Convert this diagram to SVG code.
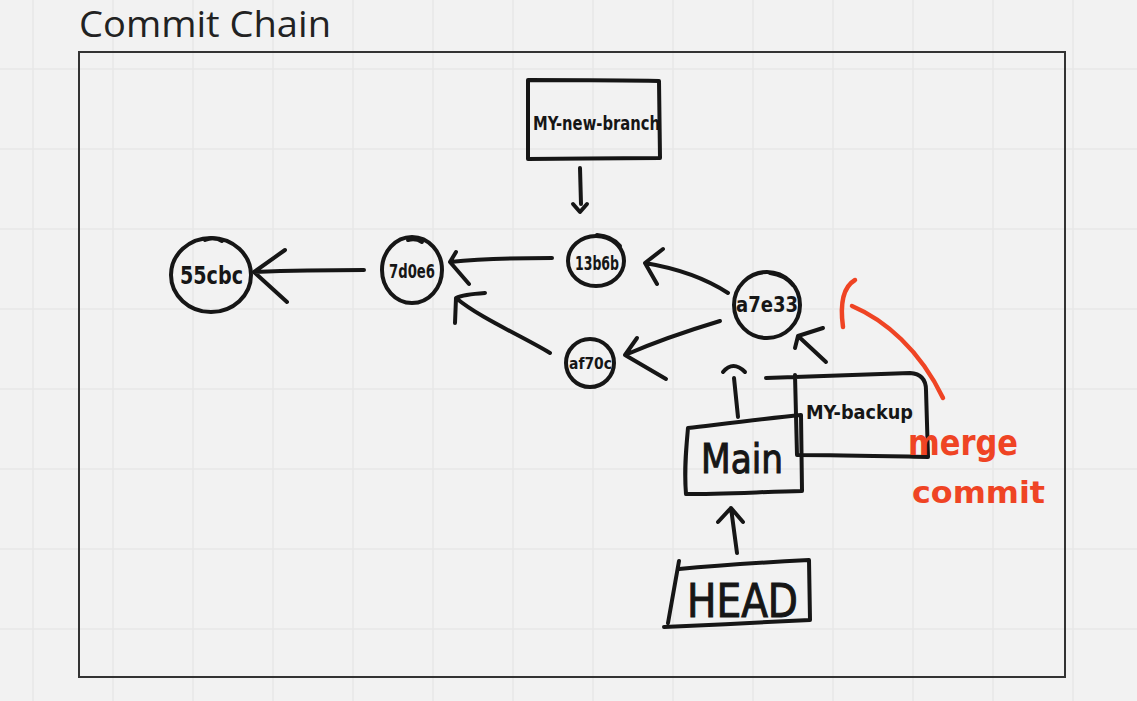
<svg xmlns="http://www.w3.org/2000/svg" width="1137" height="701" viewBox="0 0 1137 701">
<defs>
<style>
.grid{stroke:#e7e7e7;stroke-width:1.5}
.ink{fill:none;stroke:#161616;stroke-width:4;stroke-linecap:round;stroke-linejoin:round}
.red{fill:none;stroke:#ef4424;stroke-width:4.5;stroke-linecap:round;stroke-linejoin:round}
.hw{font-family:"DejaVu Sans Condensed","DejaVu Sans",sans-serif;font-weight:bold;fill:#161616}
.hwn{font-family:"DejaVu Sans Condensed","DejaVu Sans",sans-serif;font-weight:normal;fill:#161616;stroke:#161616;stroke-width:1}
.hwr{font-family:"DejaVu Sans Condensed","DejaVu Sans",sans-serif;font-weight:bold;fill:#ef4424}
</style>
</defs>
<rect width="1137" height="701" fill="#f2f2f2"/>
<g id="grid">
<path class="grid" d="M33 0V701M113 0V701M193 0V701M273 0V701M353 0V701M433 0V701M513 0V701M593 0V701M673 0V701M753 0V701M833 0V701M913 0V701M993 0V701M1073 0V701M0 69H1137M0 149H1137M0 229H1137M0 309H1137M0 389H1137M0 469H1137M0 549H1137M0 629H1137"/>
</g>
<g id="frame">
<text x="79" y="37" font-family="Open Sans, sans-serif" font-size="36" fill="#222" textLength="252" lengthAdjust="spacingAndGlyphs">Commit Chain</text>
<rect x="79" y="52" width="986" height="625" fill="none" stroke="#333" stroke-width="2"/>
</g>
<g id="connectors">
<path class="ink" d="M580 168L581 204M573 204L580 212L587 204"/>
<path class="ink" d="M364 270C320 270 280 271 254 272M285 250L254 272L287 302"/>
<path class="ink" d="M552 258C515 258 480 259 450 262M456 252L450 262L469 284"/>
<path class="ink" d="M550 353C520 335 480 318 456 298M485 293C470 294 462 295 456 298L455 323"/>
<path class="ink" d="M728 293C705 278 675 268 645 263M663 249L645 263L657 284"/>
<path class="ink" d="M720 321C690 330 655 342 625 355M637 338L625 355L666 379"/>
<path class="ink" d="M826 362L798 336M823 328L798 336L795 348"/>
<path class="ink" d="M738 417L734 378M723 372Q733 360 745 372"/>
<path class="ink" d="M737 553L731 508M718 522L731 508L743 522"/>
</g>
<g id="node-my-new-branch">
<path class="ink" d="M528 80C580 80 620 80 659 81L660 158C620 158 570 159 528 159Z"/>
<text class="hw" x="533" y="130" font-size="19" textLength="127" lengthAdjust="spacingAndGlyphs">MY-new-branch</text>
</g>
<g id="node-55cbc">
<ellipse class="ink" cx="211" cy="275" rx="40" ry="37"/>
<path class="ink" d="M205 240Q214 236 222 241"/>
<text class="hw" x="180" y="284" font-size="24" textLength="63" lengthAdjust="spacingAndGlyphs">55cbc</text>
</g>
<g id="node-7d0e6">
<ellipse class="ink" cx="412" cy="270" rx="30" ry="33"/>
<path class="ink" d="M408 240Q416 238 422 242"/>
<text class="hw" x="389" y="278" font-size="19" textLength="46" lengthAdjust="spacingAndGlyphs">7d0e6</text>
</g>
<g id="node-13b6b">
<ellipse class="ink" cx="596" cy="261" rx="28" ry="25"/>
<path class="ink" d="M597 235Q612 236 620 246"/>
<text class="hw" x="575" y="270" font-size="19" textLength="44" lengthAdjust="spacingAndGlyphs">13b6b</text>
</g>
<g id="node-a7e33">
<ellipse class="ink" cx="767" cy="305" rx="33" ry="33"/>
<path class="ink" d="M770 273Q785 275 793 285"/>
<text class="hw" x="736" y="312" font-size="21" textLength="62" lengthAdjust="spacingAndGlyphs">a7e33</text>
</g>
<g id="node-af70c">
<ellipse class="ink" cx="590" cy="363" rx="24" ry="24"/>
<text class="hw" x="569" y="369" font-size="15" textLength="43" lengthAdjust="spacingAndGlyphs">af70c</text>
</g>
<g id="node-my-backup">
<path class="ink" d="M766 378C820 376 870 374 910 373Q926 374 926 390L928 457C880 456 840 455 797 455L795 375"/>
<text class="hw" x="806" y="419" font-size="19" textLength="107" lengthAdjust="spacingAndGlyphs">MY-backup</text>
</g>
<g id="node-main">
<path class="ink" d="M688 428C730 423 770 418 801 415L802 491C760 492 720 494 686 494C684 470 686 450 688 428Z"/>
<text class="hwn" x="701" y="473" font-size="40" textLength="82" lengthAdjust="spacingAndGlyphs">Main</text>
</g>
<g id="node-head">
<path class="ink" d="M679 569C720 565 770 562 809 560L810 620C770 622 710 625 664 627M679 561L668 623"/>
<text class="hwn" x="687" y="617" font-size="46" textLength="111" lengthAdjust="spacingAndGlyphs">HEAD</text>
</g>
<g id="note-merge-commit">
<path class="red" d="M855 280Q838 290 843 327"/>
<path class="red" d="M852 306C885 320 920 350 943 398"/>
<text class="hwr" x="908" y="455" font-size="36" textLength="110" lengthAdjust="spacingAndGlyphs">merge</text>
<text class="hwr" x="912" y="503" font-size="30" textLength="133" lengthAdjust="spacingAndGlyphs">commit</text>
</g>
</svg>
